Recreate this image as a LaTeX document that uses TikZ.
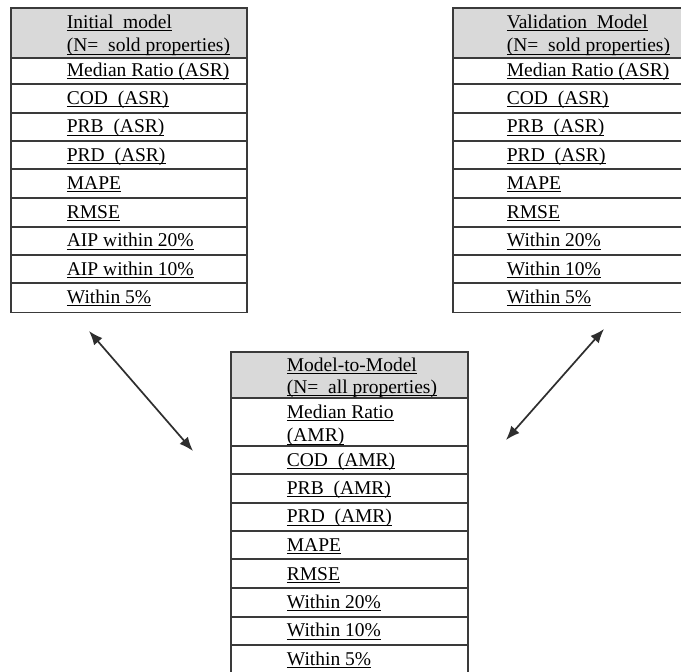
\documentclass[tikz,border=0pt]{standalone}
\usepackage{fontspec}
\setmainfont{Liberation Serif}
\usetikzlibrary{arrows.meta}
\definecolor{bord}{HTML}{3A3A3A}
\definecolor{hdr}{HTML}{D9D9D9}
\definecolor{arr}{HTML}{2E2E2E}
\newcommand\ulx[1]{\setbox0\hbox{#1}\rlap{\rule[-2.8pt]{\wd0}{1.0pt}}\box0}
\begin{document}
\begin{tikzpicture}[x=1pt,y=-1pt,
  tbl/.style={draw=bord, line width=1.7pt, inner sep=0pt, anchor=north west, minimum width=236pt},
  rowline/.style={draw=bord, line width=1.7pt},
  txt/.style={anchor=base west, inner sep=0pt, font=\fontsize{19.5pt}{23pt}\selectfont, text=black},
  dbl/.style={arr, line width=1.7pt, {Latex[length=14pt,width=11pt]}-{Latex[length=14pt,width=11pt]}}]
\useasboundingbox (0,0) rectangle (681,672);
\clip (0,0) rectangle (681,672);
\fill[white] (0,0) rectangle (681,672);

% ---------- Left table ----------
\fill[hdr] (10,7) rectangle (246,57.7);
\node[tbl, minimum height=304.7pt] (T1) at (10,7) {};
\foreach \y in {57.7,84.3,112.7,141,169.3,197.7,226.7,255,283.3}
  \draw[rowline] (10,\y) -- (246,\y);
\node[txt] (t1h1) at (66.7,28.6) {\ulx{Initial\ \ model}};
\node[txt] (t1h2) at (66.7,51.7) {\ulx{(N=\ \ sold properties)}};
\node[txt] (t1r1) at (66.7,76.0) {\ulx{Median Ratio (ASR)}};
\node[txt] (t1r2) at (66.7,104.4) {\ulx{COD\ \ (ASR)}};
\node[txt] (t1r3) at (66.7,132.7) {\ulx{PRB\ \ (ASR)}};
\node[txt] (t1r4) at (66.7,161.0) {\ulx{PRD\ \ (ASR)}};
\node[txt] (t1r5) at (66.7,189.4) {\ulx{MAPE}};
\node[txt] (t1r6) at (66.7,218.4) {\ulx{RMSE}};
\node[txt] (t1r7) at (66.7,246.7) {\ulx{AIP within 20\%}};
\node[txt] (t1r8) at (66.7,275.0) {\ulx{AIP within 10\%}};
\node[txt] (t1r9) at (66.7,303.4) {\ulx{Within 5\%}};

% ---------- Right table ----------
\fill[hdr] (452,7) rectangle (688,57.7);
\node[tbl, minimum height=304.7pt] (T2) at (452,7) {};
\foreach \y in {57.7,84.3,112.7,141,169.3,197.7,226.7,255,283.3}
  \draw[rowline] (452,\y) -- (688,\y);
\node[txt] (t2h1) at (506.7,28.6) {\ulx{Validation\ \ Model}};
\node[txt] (t2h2) at (506.7,51.7) {\ulx{(N=\ \ sold properties)}};
\node[txt] (t2r1) at (506.7,76.0) {\ulx{Median Ratio (ASR)}};
\node[txt] (t2r2) at (506.7,104.4) {\ulx{COD\ \ (ASR)}};
\node[txt] (t2r3) at (506.7,132.7) {\ulx{PRB\ \ (ASR)}};
\node[txt] (t2r4) at (506.7,161.0) {\ulx{PRD\ \ (ASR)}};
\node[txt] (t2r5) at (506.7,189.4) {\ulx{MAPE}};
\node[txt] (t2r6) at (506.7,218.4) {\ulx{RMSE}};
\node[txt] (t2r7) at (506.7,246.7) {\ulx{Within 20\%}};
\node[txt] (t2r8) at (506.7,275.0) {\ulx{Within 10\%}};
\node[txt] (t2r9) at (506.7,303.4) {\ulx{Within 5\%}};

% ---------- Middle table ----------
\fill[hdr] (230,351) rectangle (467,398);
\node[tbl, minimum width=237pt, minimum height=322.4pt] (T3) at (230,351) {};
\foreach \y in {398,446,474.3,502.7,531,559.3,588.3,616.7,645}
  \draw[rowline] (230,\y) -- (467,\y);
\node[txt] (t3h1) at (286.7,371.0) {\ulx{Model-to-Model}};
\node[txt] (t3h2) at (286.7,393.3) {\ulx{(N=\ \ all\ properties)}};
\node[txt] (t3r1a) at (286.7,418.3) {\ulx{Median Ratio}};
\node[txt] (t3r1b) at (286.7,441.7) {\ulx{(AMR)}};
\node[txt] (t3r2) at (286.7,466.0) {\ulx{COD\ \ (AMR)}};
\node[txt] (t3r3) at (286.7,494.4) {\ulx{PRB\ \ (AMR)}};
\node[txt] (t3r4) at (286.7,522.7) {\ulx{PRD\ \ (AMR)}};
\node[txt] (t3r5) at (286.7,551.0) {\ulx{MAPE}};
\node[txt] (t3r6) at (286.7,580.0) {\ulx{RMSE}};
\node[txt] (t3r7) at (286.7,608.4) {\ulx{Within 20\%}};
\node[txt] (t3r8) at (286.7,636.7) {\ulx{Within 10\%}};
\node[txt] (t3r9) at (286.7,665.0) {\ulx{Within 5\%}};

% ---------- Arrows ----------
\coordinate (a1s) at (89,331);
\coordinate (a1e) at (193,451);
\coordinate (a2s) at (604,329);
\coordinate (a2e) at (506,440);
\draw[dbl] (a1s) -- (a1e);
\draw[dbl] (a2s) -- (a2e);
\end{tikzpicture}
\end{document}
